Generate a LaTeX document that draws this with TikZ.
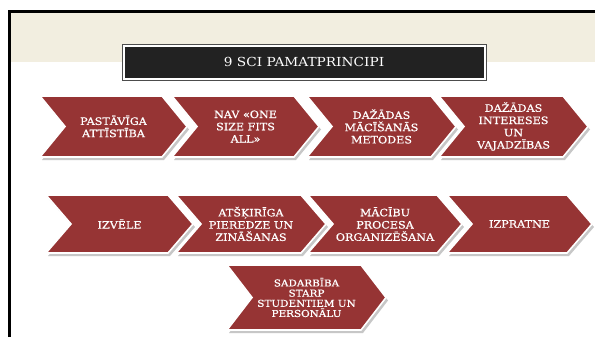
\documentclass[tikz,border=0pt]{standalone}
\usepackage{fontspec}
\setmainfont{DejaVu Serif}[FakeStretch=1.1,FakeBold=0.7]
\newfontfamily\titlefont{DejaVu Serif}[FakeStretch=1.1]
\usepackage{tikz}
\usetikzlibrary{positioning,calc}
\definecolor{chevred}{RGB}{150,52,52}
\definecolor{bandbeige}{RGB}{242,238,224}
\definecolor{titlebg}{RGB}{34,34,34}

\begin{document}
\begin{tikzpicture}[x=1bp,y=-1bp,
    chevtext/.style={text=white,align=center,inner sep=0pt},
    chevshadow/.style={fill=black!40,opacity=0.55},
    chevbody/.style={fill=chevred,draw=white,line width=1.6bp,line join=miter}
  ]
            \useasboundingbox (0,0) rectangle (595,337);
            \fill[white] (0,0) rectangle (595,337);
            \fill[bandbeige] (11,13) rectangle (595,62);
            \draw[black,line width=3bp] (9.5,337) -- (9.5,11.5) -- (595,11.5);
            % title bar
            \fill[white] (122,44) rectangle (486,80);
            \draw[black!70,line width=0.8bp] (122,44) rectangle (486,80);
            \node (title) [fill=titlebg,minimum width=359bp,minimum height=31bp,text=white,
              font=\titlefont\fontsize{12.5}{14}\selectfont] at (304,62) {9 SCI PAMATPRINCIPI};
            % chevrons: name/left/top/width/height/font size/leading/text
            \foreach \n/\l/\t/\w/\h/\fs/\ls/\s in {
                pastaviga/40/96/147/61/10.2/12.3/{PASTĀVĪGA\\ATTĪSTĪBA},
                nav/172/96/147/61/10.2/12.3/{NAV «ONE\\SIZE FITS\\ALL»},
                metodes/307/96/149/61/10.2/12.3/{DAŽĀDAS\\MĀCĪŠANĀS\\METODES},
                intereses/439/96/149/61/10.2/12.3/{DAŽĀDAS\\INTERESES\\UN\\VAJADZĪBAS},
                izvele/46/195/147/58/10.2/12.3/{IZVĒLE},
                pieredze/176/195/150/58/10.2/12.3/{ATŠĶIRĪGA\\PIEREDZE UN\\ZINĀŠANAS},
                process/308/195/154/58/10.2/12.3/{MĀCĪBU\\PROCESA\\ORGANIZĒŠANA},
                izpratne/447/195/145/58/10.2/12.3/{IZPRATNE},
                sadarbiba/227/265/159/65/9.5/10.2/{SADARBĪBA\\STARP\\STUDENTIEM UN\\PERSONĀLU}} {
                \fill[chevshadow] (\l+2,\t+3) -- ++(\w-25,0) -- ++(25,\h/2) -- ++(-25,\h/2)
                  -- ++(-\w+25,0) -- ++(25,-\h/2) -- cycle;
                \filldraw[chevbody] (\l,\t) -- ++(\w-25,0) -- ++(25,\h/2) -- ++(-25,\h/2)
                  -- ++(-\w+25,0) -- ++(25,-\h/2) -- cycle;
                \node (\n) [chevtext,font=\fontsize{\fs}{\ls}\selectfont] at (\l+\w/2,\t+\h/2) {\s};
            }
\end{tikzpicture}
\end{document}
